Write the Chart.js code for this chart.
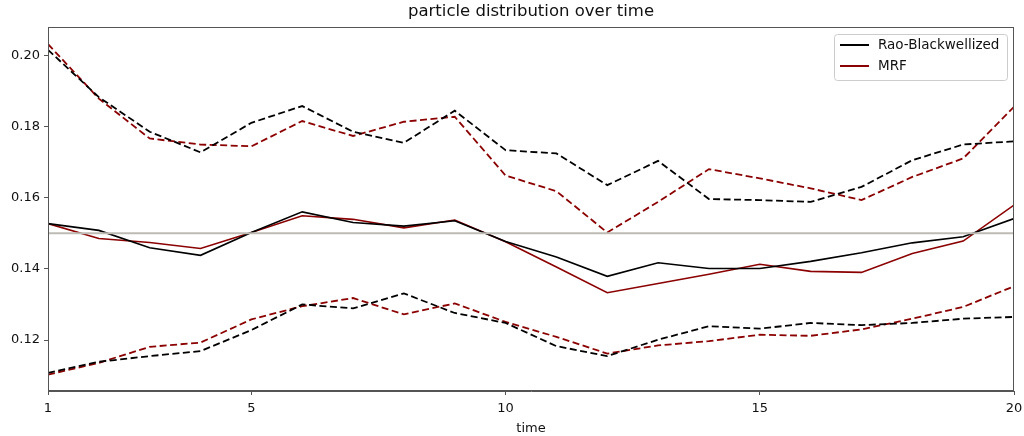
<!DOCTYPE html>
<html lang="en">
<head>
    <meta charset="UTF-8">
    <title>particle distribution over time</title>
    <script src="https://cdn.jsdelivr.net/npm/chart.js"></script>
    <style>
        body { margin: 0; background: #fff; }
        #wrap { width: 1024px; height: 436px; }
    </style>
</head>
<body>
    <div id="wrap"><canvas id="chart"></canvas></div>
    <script>
        // time steps 1..20
        const timeSteps = [1, 2, 3, 4, 5, 6, 7, 8, 9, 10, 11, 12, 13, 14, 15, 16, 17, 18, 19, 20];
        const xTicks = [1, 5, 10, 15, 20];
        const yTicks = [0.12, 0.14, 0.16, 0.18, 0.20];
        const target = 0.15;

        // Rao-Blackwellized: mean and upper/lower band
        const rbMean  = [0.1527, 0.1508, 0.1459, 0.1438, 0.1502, 0.1560, 0.1530, 0.1520, 0.1535, 0.1477,
                         0.1433, 0.1379, 0.1417, 0.1401, 0.1401, 0.1421, 0.1445, 0.1473, 0.1490, 0.1541];
        const rbUpper = [0.2015, 0.1882, 0.1785, 0.1727, 0.1810, 0.1857, 0.1785, 0.1754, 0.1844, 0.1733,
                         0.1724, 0.1635, 0.1703, 0.1596, 0.1593, 0.1588, 0.1630, 0.1705, 0.1749, 0.1758];
        const rbLower = [0.1108, 0.1139, 0.1155, 0.1169, 0.1228, 0.1300, 0.1289, 0.1331, 0.1276, 0.1248,
                         0.1183, 0.1155, 0.1201, 0.1239, 0.1232, 0.1248, 0.1242, 0.1248, 0.1260, 0.1265];

        // MRF: mean and upper/lower band
        const mrfMean  = [0.1527, 0.1485, 0.1474, 0.1457, 0.1502, 0.1549, 0.1539, 0.1515, 0.1537, 0.1476,
                          0.1405, 0.1333, 0.1359, 0.1385, 0.1413, 0.1393, 0.1390, 0.1443, 0.1478, 0.1579];
        const mrfUpper = [0.2031, 0.1878, 0.1766, 0.1749, 0.1744, 0.1815, 0.1773, 0.1813, 0.1827, 0.1662,
                          0.1618, 0.1502, 0.1588, 0.1680, 0.1654, 0.1626, 0.1593, 0.1658, 0.1710, 0.1855];
        const mrfLower = [0.1103, 0.1136, 0.1181, 0.1193, 0.1258, 0.1295, 0.1318, 0.1272, 0.1303, 0.1251,
                          0.1209, 0.1162, 0.1185, 0.1197, 0.1215, 0.1212, 0.1230, 0.1260, 0.1293, 0.1351];

        const BLACK = '#000000';
        const RED = '#8b0000';
        const TEXT = '#111';
        const FONT = '"DejaVu Sans", sans-serif';

        function pts(arr) {
            return arr.map((v, i) => ({ x: timeSteps[i], y: v }));
        }

        function line(label, arr, color, dashed) {
            return {
                label: label,
                data: pts(arr),
                borderColor: color,
                borderWidth: dashed ? 1.8 : 1.6,
                borderDash: dashed ? [7, 3.5] : [],
                pointRadius: 0,
                fill: false,
                tension: 0,
                inLegend: !dashed
            };
        }

        // frame, title and legend drawn by hand to mimic the matplotlib look
        const extras = {
            id: 'extras',
            afterDraw(chart) {
                const { ctx, chartArea: a } = chart;
                ctx.save();
                ctx.strokeStyle = '#555';
                ctx.lineWidth = 1;
                ctx.strokeRect(a.left + 0.5, a.top + 0.5, a.right - a.left - 1, a.bottom - a.top - 1);

                ctx.fillStyle = TEXT;
                ctx.font = '16.5px ' + FONT;
                ctx.textAlign = 'center';
                ctx.textBaseline = 'middle';
                ctx.fillText('particle distribution over time', (a.left + a.right) / 2, 12);

                // legend box
                const items = chart.data.datasets.filter(d => d.inLegend);
                const bx = 834, by = 34, bw = 173, bh = 46;
                ctx.fillStyle = 'rgba(255,255,255,0.8)';
                ctx.strokeStyle = '#ccc';
                ctx.beginPath();
                ctx.roundRect(bx + 0.5, by + 0.5, bw, bh, 3);
                ctx.fill();
                ctx.stroke();
                ctx.font = '13.5px ' + FONT;
                ctx.textAlign = 'left';
                items.forEach((d, i) => {
                    const y = by + 11 + i * 21;
                    ctx.strokeStyle = d.borderColor;
                    ctx.lineWidth = 2;
                    ctx.beginPath();
                    ctx.moveTo(bx + 6, y);
                    ctx.lineTo(bx + 35, y);
                    ctx.stroke();
                    ctx.fillStyle = TEXT;
                    ctx.fillText(d.label, bx + 44, y);
                });
                ctx.restore();
            }
        };

        new Chart(document.getElementById('chart'), {
            type: 'line',
            data: {
                datasets: [
                    {
                        label: 'target',
                        data: [{ x: timeSteps[0], y: target }, { x: timeSteps[timeSteps.length - 1], y: target }],
                        borderColor: '#bdbbb3',
                        borderWidth: 2,
                        pointRadius: 0,
                        inLegend: false
                    },
                    line('Rao-Blackwellized', rbMean, BLACK, false),
                    line('rb upper', rbUpper, BLACK, true),
                    line('rb lower', rbLower, BLACK, true),
                    line('MRF', mrfMean, RED, false),
                    line('mrf upper', mrfUpper, RED, true),
                    line('mrf lower', mrfLower, RED, true)
                ]
            },
            options: {
                responsive: true,
                maintainAspectRatio: false,
                animation: false,
                layout: { padding: { top: 27, right: 10, left: 0, bottom: 0 } },
                plugins: {
                    legend: { display: false },
                    tooltip: { enabled: false }
                },
                scales: {
                    x: {
                        type: 'linear',
                        min: 1,
                        max: 20,
                        afterBuildTicks: s => { s.ticks = xTicks.map(v => ({ value: v })); },
                        afterFit: s => { s.height = 45; s.paddingLeft = 0; s.paddingRight = 0; },
                        grid: { drawOnChartArea: false, tickLength: 4, color: '#555' },
                        border: { color: '#555' },
                        ticks: { color: TEXT, font: { family: FONT, size: 13 }, padding: 6, maxRotation: 0 },
                        title: { display: true, text: 'time', color: TEXT, font: { family: FONT, size: 13 }, padding: 0 }
                    },
                    y: {
                        type: 'linear',
                        min: 0.1057,
                        max: 0.2079,
                        afterBuildTicks: s => { s.ticks = yTicks.map(v => ({ value: v })); },
                        afterFit: s => { s.width = 48; s.paddingTop = 0; s.paddingBottom = 0; },
                        grid: { drawOnChartArea: false, tickLength: 4, color: '#555' },
                        border: { color: '#555' },
                        ticks: { color: TEXT, font: { family: FONT, size: 13 }, padding: 4, callback: v => v.toFixed(2) }
                    }
                }
            },
            plugins: [extras]
        });
    </script>
</body>
</html>
